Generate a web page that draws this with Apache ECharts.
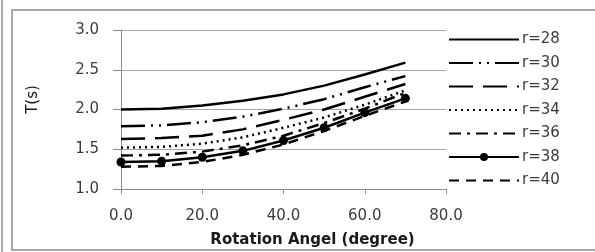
<!DOCTYPE html>
<html>
<head>
<meta charset="utf-8">
<script src="https://cdn.jsdelivr.net/npm/echarts@6/dist/echarts.min.js"></script>
<style>
  html, body { margin: 0; padding: 0; background: #fff; }
  #chart { width: 595px; height: 252px; }
</style>
</head>
<body>
<div id="chart"></div>
<script>
// rotation angle (degree)
var angles = [0, 10, 20, 30, 40, 50, 60, 70]
// period T (s) per radius
var r28 = [2.00, 2.01, 2.05, 2.11, 2.19, 2.30, 2.44, 2.59]
var r30 = [1.79, 1.80, 1.84, 1.91, 2.01, 2.13, 2.28, 2.42]
var r32 = [1.63, 1.64, 1.67, 1.75, 1.87, 2.00, 2.16, 2.32]
var r34 = [1.52, 1.53, 1.57, 1.65, 1.77, 1.90, 2.06, 2.24]
var r36 = [1.42, 1.43, 1.47, 1.55, 1.67, 1.83, 2.01, 2.21]
var r38 = [1.34, 1.35, 1.40, 1.48, 1.61, 1.77, 1.96, 2.14]
var r40 = [1.28, 1.29, 1.34, 1.43, 1.56, 1.73, 1.92, 2.10]
var names = ['r=28', 'r=30', 'r=32', 'r=34', 'r=36', 'r=38', 'r=40']

var seriesValues = [r28, r30, r32, r34, r36, r38, r40]
// line dash for each series (Excel styles)
var dashes = ['solid', [24, 6, 2, 6, 2, 6], [24, 10], [2, 4], [12, 6, 3, 6], 'solid', [10, 7]]

var chart = echarts.init(document.getElementById('chart'))

var series = seriesValues.map(function (vals, i) {
  var isMarked = names[i] === 'r=38'
  return {
    name: names[i],
    type: 'line',
    data: vals.map(function (v, j) { return [angles[j], v] }),
    symbol: isMarked ? 'circle' : 'none',
    symbolSize: 9,
    showSymbol: isMarked,
    animation: false,
    itemStyle: { color: '#000' },
    lineStyle: { color: '#000', width: 2.5, type: dashes[i] }
  }
})

var tickFont = {
  fontFamily: 'DejaVu Sans',
  fontSize: 15,
  color: '#3c3c3c'
}

chart.setOption({
  backgroundColor: '#fff',
  graphic: [
    // chart frame
    { type: 'rect', shape: { x: 12, y: 10, width: 600, height: 240 }, style: { fill: 'none', stroke: '#a8a8a8', lineWidth: 2 } },
    { type: 'line', shape: { x1: 2, y1: 0, x2: 2, y2: 252 }, style: { stroke: '#a8a8a8', lineWidth: 2 } }
  ],
  grid: {
    left: 121,
    right: 149,
    top: 30,
    bottom: 63,
    containLabel: false,
    outerBoundsMode: 'none'
  },
  legend: {
    orient: 'vertical',
    left: 443,
    top: 27,
    itemWidth: 70,
    itemHeight: 10,
    itemGap: 8.5,
    data: names.map(function (n) {
      // only r=38 keeps its marker in the legend
      return n === 'r=38' ? { name: n } : { name: n, itemStyle: { opacity: 0 } }
    }),
    textStyle: { fontFamily: 'DejaVu Sans', fontSize: 15, color: '#3c3c3c', padding: [0, 0, 0, -2] }
  },
  xAxis: {
    type: 'value',
    min: 0,
    max: 80,
    interval: 20,
    name: 'Rotation Angel (degree)',
    nameLocation: 'middle',
    nameGap: 44,
    nameTextStyle: { fontFamily: 'DejaVu Sans', fontSize: 15, fontWeight: 'bold', color: '#1a1a1a', padding: [0, 0, 0, 58] },
    axisLine: { show: true, lineStyle: { color: '#8c8c8c', width: 1 } },
    axisTick: { show: true, inside: false, length: 5, lineStyle: { color: '#8c8c8c' } },
    axisLabel: Object.assign({ margin: 20, formatter: function (v) { return v.toFixed(1) } }, tickFont),
    splitLine: { show: false }
  },
  yAxis: {
    type: 'value',
    min: 1,
    max: 3,
    interval: 0.5,
    name: 'T(s)',
    nameLocation: 'middle',
    nameRotate: 90,
    nameGap: 80,
    nameTextStyle: { fontFamily: 'DejaVu Sans', fontSize: 15, color: '#1a1a1a', padding: [0, 0, 0, 20] },
    axisLine: { show: true, lineStyle: { color: '#8c8c8c', width: 1 } },
    axisTick: { show: true, inside: false, length: 8, lineStyle: { color: '#8c8c8c' } },
    axisLabel: Object.assign({ margin: 22, formatter: function (v) { return v.toFixed(1) } }, tickFont),
    splitLine: { show: true, lineStyle: { color: '#a6a6a6', width: 1 } }
  },
  series: series
})
</script>
</body>
</html>
